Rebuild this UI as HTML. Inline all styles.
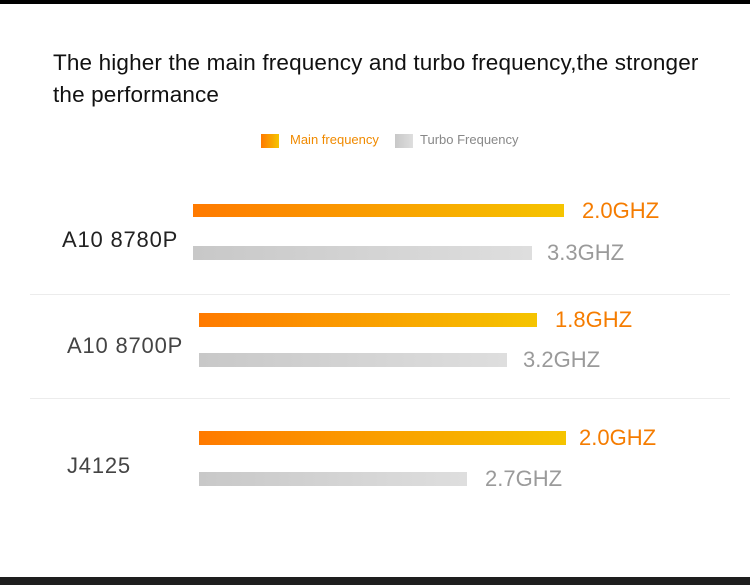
<!DOCTYPE html>
<html><head><style>
body{margin:0;width:750px;height:585px;background:#fff;position:relative;overflow:hidden;font-family:"Liberation Sans",sans-serif}
.a{position:absolute}
.o{background:linear-gradient(90deg,#ff7a00,#f5c400)}
.g{background:linear-gradient(90deg,#c8c8c8,#dedede)}
.vo{color:#f57c00;font-size:22px}
.vg{color:#9a9a9a;font-size:22px}
.lab{color:#222;font-size:22px;letter-spacing:0.8px}
.sep{left:30px;width:700px;height:1px;background:#ececec}
</style></head><body>
<div class="a" style="left:0;top:0;width:750px;height:4px;background:#000"></div>
<div class="a" style="left:0;top:577px;width:750px;height:8px;background:#1e1e1e"></div>
<div class="a" style="left:53px;top:47px;font-size:22.5px;line-height:32px;color:#111;letter-spacing:0.15px;white-space:nowrap">The higher the main frequency and turbo frequency,the stronger<br>the performance</div>
<div class="a o" style="left:261px;top:134px;width:18px;height:14px"></div>
<div class="a" style="left:290px;top:132px;font-size:13px;color:#f08a00">Main frequency</div>
<div class="a g" style="left:395px;top:134px;width:18px;height:14px"></div>
<div class="a" style="left:420px;top:132px;font-size:13px;color:#888">Turbo Frequency</div>

<div class="a lab" style="left:62px;top:227px">A10 8780P</div>
<div class="a o" style="left:193px;top:204px;width:371px;height:13px"></div>
<div class="a vo" style="left:582px;top:198px">2.0GHZ</div>
<div class="a g" style="left:193px;top:246px;width:339px;height:14px"></div>
<div class="a vg" style="left:547px;top:240px">3.3GHZ</div>
<div class="a sep" style="top:294px"></div>

<div class="a lab" style="left:67px;top:333px;color:#444">A10 8700P</div>
<div class="a o" style="left:199px;top:313px;width:338px;height:14px"></div>
<div class="a vo" style="left:555px;top:307px">1.8GHZ</div>
<div class="a g" style="left:199px;top:353px;width:308px;height:14px"></div>
<div class="a vg" style="left:523px;top:347px">3.2GHZ</div>
<div class="a sep" style="top:398px"></div>

<div class="a lab" style="left:67px;top:453px;color:#444">J4125</div>
<div class="a o" style="left:199px;top:431px;width:367px;height:14px"></div>
<div class="a vo" style="left:579px;top:425px">2.0GHZ</div>
<div class="a g" style="left:199px;top:472px;width:268px;height:14px"></div>
<div class="a vg" style="left:485px;top:466px">2.7GHZ</div>
</body></html>
